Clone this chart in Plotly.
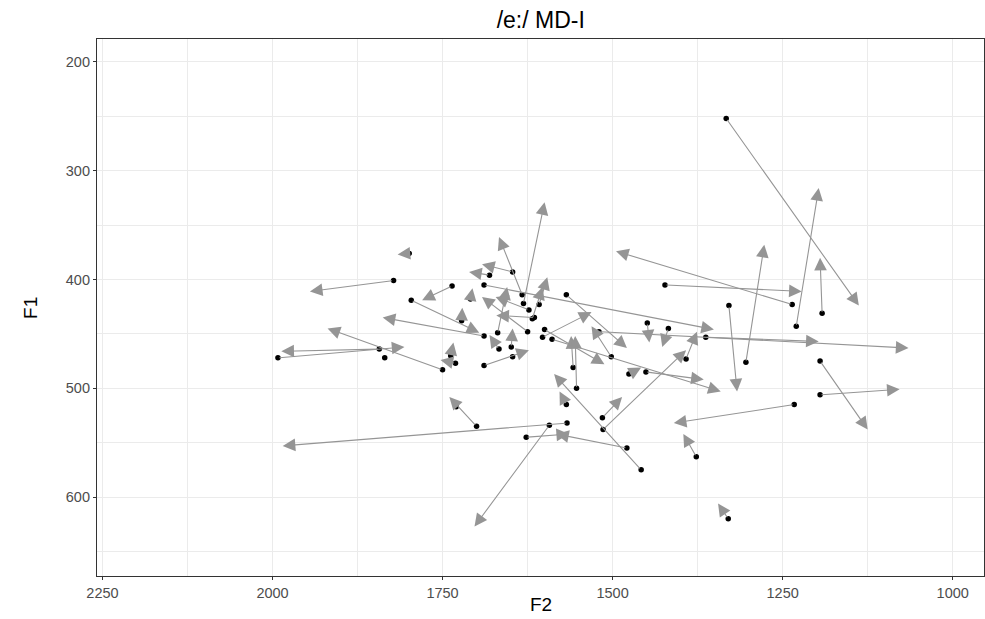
import plotly.graph_objects as go

# Arrow start (black point) and end (arrow head) in formant space
f2_start = [1333, 1230, 1192, 1304, 1329, 1423, 1195, 1195, 1233, 1377, 1330, 1520, 1363, 1236,
            1392, 1514, 1458, 1515, 1479, 1627, 1593, 1567, 1568, 1558, 1553, 1449, 1418, 1568,
            1451, 1589, 1600, 1502, 1633, 1631, 1647, 1681, 1689, 1736, 1799, 1822, 1796, 1689,
            1750, 1992, 1843, 1738, 1731, 1700, 1709, 1722, 1667, 1649, 1689, 1623, 1669, 1608,
            1618, 1625, 1615, 1603, 1476]
f1_start = [252, 443, 431, 476, 424, 405, 475, 506, 515, 563, 620, 448, 453, 423,
            473, 538, 575, 527, 555, 545, 534, 532, 515, 481, 500, 440, 445, 414,
            485, 455, 446, 471, 414, 422, 393, 396, 405, 406, 376, 401, 419, 452,
            483, 472, 464, 470, 477, 535, 418, 438, 464, 462, 479, 428, 449, 423,
            436, 448, 435, 453, 487]
f2_end = [1138, 1197, 1195, 1277, 1317, 1222, 1125, 1078, 1410, 1396, 1345, 1065, 1197, 1495,
          1376, 1392, 1586, 1486, 1583, 1564, 1703, 1985, 1578, 1561, 1555, 1446, 1427, 1479,
          1366, 1341, 1512, 1531, 1667, 1600, 1692, 1711, 1351, 1780, 1816, 1945, 1696, 1838,
          1919, 1806, 1987, 1734, 1753, 1740, 1706, 1721, 1681, 1647, 1623, 1672, 1655, 1596,
          1603, 1692, 1671, 1531, 1458]
f1_end = [424, 316, 380, 368, 503, 411, 538, 501, 532, 542, 606, 463, 457, 374,
          448, 465, 487, 508, 542, 542, 627, 553, 503, 452, 452, 458, 462, 463,
          492, 503, 478, 443, 361, 329, 386, 393, 446, 419, 377, 411, 449, 435,
          445, 462, 466, 458, 474, 508, 408, 426, 451, 445, 465, 416, 407, 398,
          407, 416, 433, 430, 481]

# Tokens without a visible arrow
lone_f2 = [1835, 1730, 1647]
lone_f1 = [472, 517, 471]

x_ticks = [2250, 2000, 1750, 1500, 1250, 1000]
y_ticks = [200, 300, 400, 500, 600]

fig = go.Figure()

fig.add_trace(go.Scatter(
    x=f2_start + lone_f2, y=f1_start + lone_f1, mode="markers",
    marker=dict(color="black", size=5.5, symbol="circle"),
    hoverinfo="skip", showlegend=False))

for xs, ys, xe, ye in zip(f2_start, f1_start, f2_end, f1_end):
    fig.add_annotation(
        x=xe, y=ye, ax=xs, ay=ys, xref="x", yref="y", axref="x", ayref="y",
        text="", showarrow=True, arrowhead=2, arrowsize=2.3, arrowwidth=1.1,
        arrowcolor="#959595", standoff=0, startstandoff=0)

font_family = "Liberation Sans, Arial, sans-serif"

fig.add_annotation(text="F2", xref="paper", yref="paper", x=0.5, y=-0.054,
                   xanchor="center", yanchor="middle", showarrow=False,
                   font=dict(size=19, color="black", family=font_family))
fig.add_annotation(text="F1", xref="paper", yref="paper", x=-0.075, y=0.5,
                   xanchor="center", yanchor="middle", showarrow=False, textangle=-90,
                   font=dict(size=19, color="black", family=font_family))

fig.update_layout(
    width=985, height=619,
    margin=dict(l=97, r=1, t=39, b=43, autoexpand=False),
    paper_bgcolor="white", plot_bgcolor="white",
    title=dict(text="/e:/ MD-I", x=0.549, xref="container", xanchor="center",
               y=0.968, yref="container", yanchor="middle",
               font=dict(family=font_family, size=23, color="black")),
    font=dict(family=font_family),
    showlegend=False,
)

fig.update_xaxes(
    range=[2258, 954], tickvals=x_ticks, ticktext=[str(v) for v in x_ticks],
    automargin=False,
    showgrid=True, gridcolor="#ebebeb", gridwidth=1.1,
    minor=dict(dtick=125, tick0=1000, showgrid=True, gridcolor="#ebebeb", gridwidth=0.6),
    showline=True, linecolor="#333333", linewidth=1.2, mirror=True,
    ticks="outside", ticklen=3, tickcolor="#333333", tickwidth=1,
    tickfont=dict(size=14.5, color="#4d4d4d", family=font_family),
    zeroline=False,
)
fig.update_yaxes(
    range=[672.6, 178.9], tickvals=y_ticks, ticktext=[str(v) for v in y_ticks],
    automargin=False,
    showgrid=True, gridcolor="#ebebeb", gridwidth=1.1,
    minor=dict(dtick=50, tick0=200, showgrid=True, gridcolor="#ebebeb", gridwidth=0.6),
    showline=True, linecolor="#333333", linewidth=1.2, mirror=True,
    ticks="outside", ticklen=3, tickcolor="#333333", tickwidth=1,
    tickfont=dict(size=14.5, color="#4d4d4d", family=font_family),
    zeroline=False,
)

fig.write_html(
    "out.html",
    config={"displayModeBar": False},
    post_script="document.body.style.margin='0';document.body.style.overflow='hidden';",
)
